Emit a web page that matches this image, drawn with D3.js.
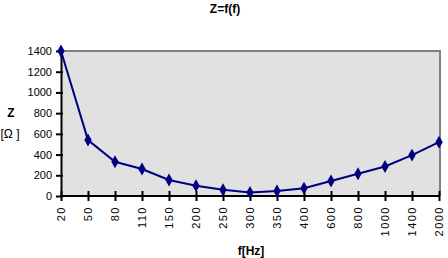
<!DOCTYPE html>
<html>
<head>
<meta charset="utf-8">
<script src="https://cdn.jsdelivr.net/npm/d3@7"></script>
<style>
  body { margin: 0; background: #fff; }
  svg text { font-family: "Liberation Sans", Arial, sans-serif; }
</style>
</head>
<body>
<div id="chart"></div>
<script>
// chart values
var freqs = ['20', '50', '80', '110', '150', '200', '250', '300', '350', '400', '600', '800', '1000', '1400', '2000'];
var impedance = [1400, 540, 330, 260, 155, 100, 60, 35, 48, 75, 145, 215, 285, 395, 520];
var yTicks = [0, 200, 400, 600, 800, 1000, 1200, 1400];

var width = 448;
var height = 258;
var plot = {left: 61, right: 440, top: 51, bottom: 196};

var svg = d3.select('#chart')
  .append('svg')
  .attr('width', width)
  .attr('height', height);

var x = d3.scalePoint()
  .domain(freqs)
  .range([plot.left, plot.right - 1]);

var y = d3.scaleLinear()
  .domain([0, 1400])
  .range([plot.bottom, plot.top]);

// plot background
svg.append('rect')
  .attr('x', plot.left)
  .attr('y', plot.top)
  .attr('width', plot.right - plot.left)
  .attr('height', plot.bottom - plot.top)
  .attr('fill', '#e1e1e1');

// gray frame on top and right
svg.append('path')
  .attr('d', 'M' + plot.left + ',' + plot.top + 'H' + plot.right + 'V' + plot.bottom)
  .attr('fill', 'none')
  .attr('stroke', '#808080')
  .attr('stroke-width', 2);

// y axis
var yAxis = svg.append('g')
  .attr('transform', 'translate(' + plot.left + ',0)')
  .call(d3.axisLeft(y).tickValues(yTicks).tickFormat(d3.format('d')).tickSizeInner(4).tickSizeOuter(0));
yAxis.select('.domain').attr('stroke', '#000').attr('stroke-width', 2);
yAxis.selectAll('.tick line').attr('stroke', '#000').attr('stroke-width', 2).attr('x2', -5).attr('x1', 2);
yAxis.selectAll('.tick text')
  .attr('font-size', 11)
  .attr('fill', '#000')
  .attr('x', -9)
  .style('font-family', '"Liberation Sans", Arial, sans-serif');

// x axis
var xAxis = svg.append('g')
  .attr('transform', 'translate(0,' + plot.bottom + ')')
  .call(d3.axisBottom(x).tickSizeInner(5).tickSizeOuter(0));
xAxis.select('.domain').attr('stroke', '#000').attr('stroke-width', 2)
  .attr('d', 'M' + plot.left + ',0H' + plot.right);
xAxis.selectAll('.tick line').attr('stroke', '#000').attr('stroke-width', 2).attr('y1', -5).attr('y2', 5);
xAxis.selectAll('.tick text')
  .attr('font-size', 11)
  .attr('fill', '#000')
  .attr('transform', 'rotate(-90)')
  .attr('x', -10)
  .attr('y', 0)
  .attr('dy', '0.35em')
  .attr('text-anchor', 'end')
  .style('letter-spacing', '1.5px')
  .style('font-family', '"Liberation Sans", Arial, sans-serif');

// line and markers
var line = d3.line()
  .x(function(d, i) { return x(freqs[i]); })
  .y(function(d) { return y(d); });

svg.append('path')
  .datum(impedance)
  .attr('d', line)
  .attr('fill', 'none')
  .attr('stroke', '#000080')
  .attr('stroke-width', 2);

svg.append('g')
  .selectAll('path')
  .data(impedance)
  .enter().append('path')
    .attr('d', d3.symbol().type(d3.symbolDiamond).size(48))
    .attr('transform', function(d, i) { return 'translate(' + x(freqs[i]) + ',' + y(d) + ')'; })
    .attr('fill', '#000080');

// titles
svg.append('text')
  .attr('x', 225)
  .attr('y', 13)
  .attr('text-anchor', 'middle')
  .attr('font-size', 12)
  .attr('font-weight', 'bold')
  .text('Z=f(f)');

svg.append('text')
  .attr('x', 11)
  .attr('y', 117)
  .attr('text-anchor', 'middle')
  .attr('font-size', 12)
  .attr('font-weight', 'bold')
  .text('Z');

svg.append('text')
  .attr('x', 10)
  .attr('y', 138)
  .attr('text-anchor', 'middle')
  .attr('font-size', 12)
  .text('[Ω ]');

svg.append('text')
  .attr('x', 251)
  .attr('y', 255)
  .attr('text-anchor', 'middle')
  .attr('font-size', 12)
  .attr('font-weight', 'bold')
  .text('f[Hz]');
</script>
</body>
</html>
